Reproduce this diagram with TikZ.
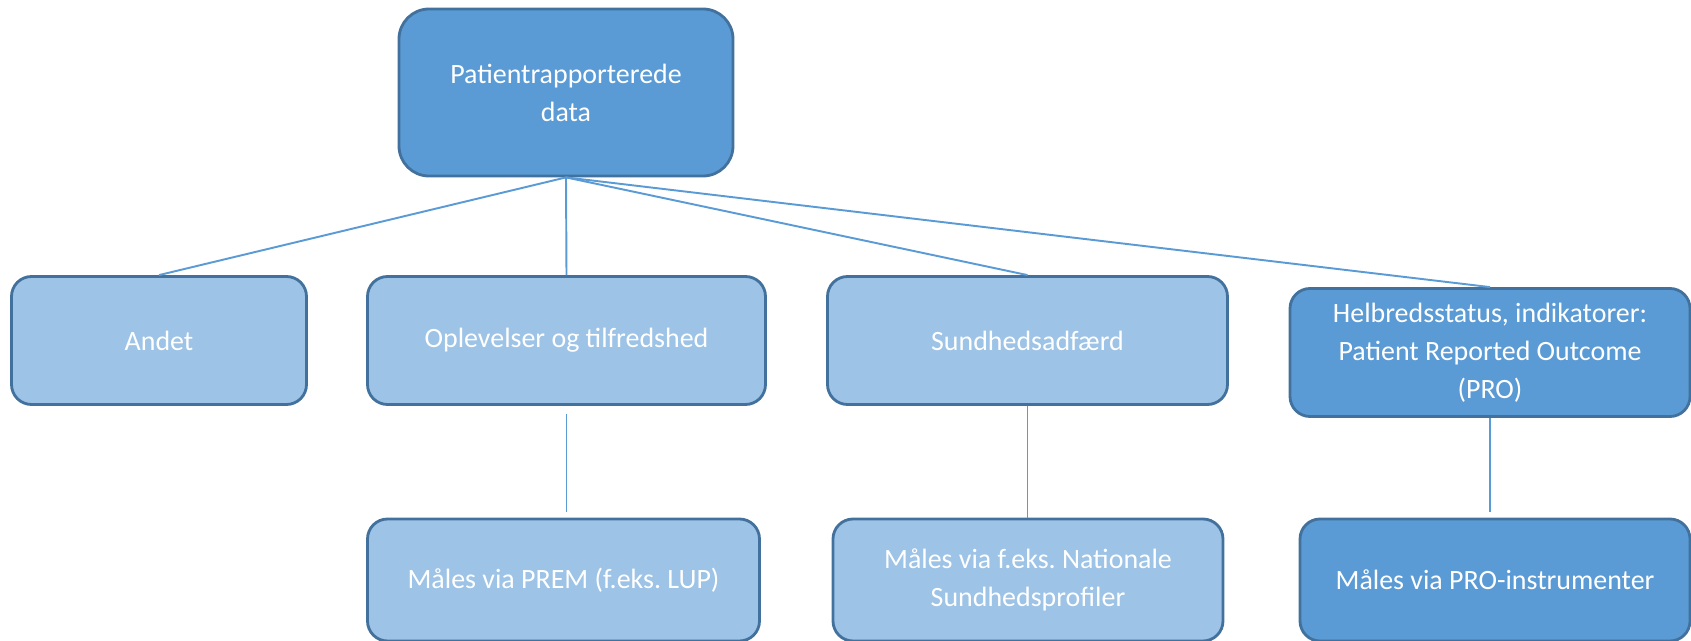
\documentclass[tikz,border=0pt]{standalone}
\usepackage{fontspec}
\setmainfont{Carlito}
\frenchspacing
\definecolor{darkblue}{HTML}{5B9BD5}
\definecolor{lightblue}{HTML}{9DC3E6}
\definecolor{edgeblue}{HTML}{41719C}
\begin{document}
\begin{tikzpicture}[
    box/.style={draw=edgeblue, line width=1.6pt, rounded corners=0.4cm,
        text=white, align=center, inner sep=0pt,
        font=\fontsize{15.9pt}{21.6pt}\selectfont},
    lightbox/.style={box, fill=lightblue, minimum height=2.56cm},
    darkbox/.style={box, fill=darkblue, minimum height=2.56cm},
    link/.style={draw=darkblue, line width=1.1pt}]
        \useasboundingbox (0,0) rectangle (33.82,-12.82);

        \node[darkbox, minimum width=6.68cm, minimum height=3.34cm, rounded corners=0.6cm] (data) at (11.32,-1.85) {Patientrapporterede\\data};

        \node[lightbox, minimum width=5.9cm] (andet) at (3.18,-6.81) {Andet};
        \node[lightbox, minimum width=7.96cm] (oplev) at (11.33,-6.81) {Oplevelser og tilfredshed};
        \node[lightbox, minimum width=8cm] (sund) at (20.55,-6.81) {Sundhedsadfærd};
        \node[darkbox, minimum width=8cm] (helbred) at (29.8,-7.05) {Helbredsstatus, indikatorer:\\Patient Reported Outcome\\(PRO)};

        \node[lightbox, minimum width=7.84cm, minimum height=2.44cm] (prem) at (11.27,-11.6) {Måles via PREM (f.eks. LUP)};
        \node[lightbox, minimum width=7.8cm, minimum height=2.44cm] (nat) at (20.56,-11.6) {Måles via f.eks. Nationale\\Sundhedsprofiler};
        \node[darkbox, minimum width=7.8cm, minimum height=2.44cm] (pro) at (29.9,-11.6) {Måles via PRO-instrumenter};

        \draw[link] (data.south) -- (andet.north);
        \draw[link] (data.south) -- (oplev.north);
        \draw[link] (data.south) -- (sund.north);
        \draw[link] (data.south) -- (helbred.north);

        \draw[link, shorten <=0.16cm, shorten >=0.12cm] (oplev.south) -- (prem.north -| oplev.south);
        \draw[link] (sund.south) -- (nat.north -| sund.south);
        \draw[link, shorten >=0.12cm] (helbred.south) -- (pro.north -| helbred.south);
    \end{tikzpicture}
\end{document}
